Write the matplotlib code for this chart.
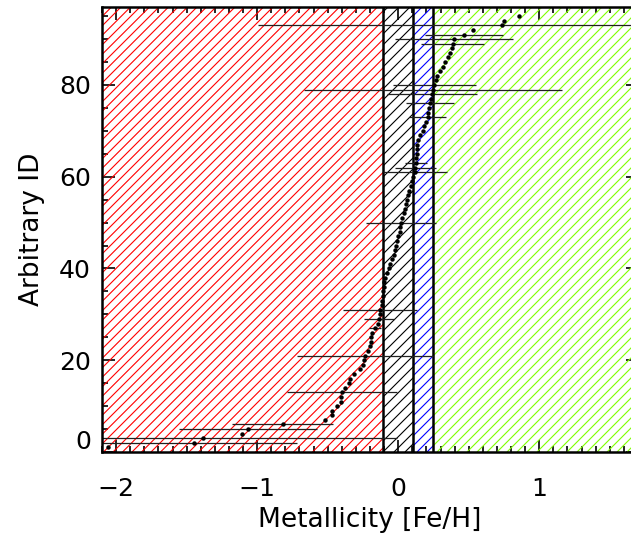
import numpy as np
import matplotlib
matplotlib.use("Agg")
import matplotlib.pyplot as plt
from matplotlib.collections import LineCollection
from matplotlib.patches import Rectangle
from matplotlib.ticker import MultipleLocator

# sorted metallicities, one star per ID (IDs start at 1)
star_id = list(range(1, 96))
feh = [-2.056, -1.447, -1.387, -1.111, -1.066, -0.820, -0.518, -0.468, -0.468, -0.437,
       -0.406, -0.406, -0.401, -0.376, -0.348, -0.343, -0.316, -0.274, -0.250, -0.245,
       -0.235, -0.213, -0.199, -0.194, -0.190, -0.185, -0.165, -0.146, -0.138, -0.130,
       -0.127, -0.118, -0.113, -0.110, -0.105, -0.102, -0.098, -0.094, -0.080, -0.066,
       -0.055, -0.042, -0.032, -0.024, -0.015, -0.006, 0.000, 0.010, 0.015, 0.019,
       0.027, 0.038, 0.048, 0.057, 0.064, 0.072, 0.080, 0.090, 0.098, 0.104,
       0.118, 0.122, 0.127, 0.128, 0.130, 0.133, 0.135, 0.142, 0.153, 0.173,
       0.184, 0.195, 0.209, 0.212, 0.217, 0.225, 0.231, 0.241, 0.248, 0.255,
       0.267, 0.276, 0.294, 0.314, 0.334, 0.354, 0.365, 0.380, 0.385, 0.395,
       0.468, 0.528, 0.733, 0.750, 0.857]

# stars that carry an error bar (ID, half width in dex)
err_id = [2, 3, 5, 6, 13, 21, 27, 29, 31, 50, 61, 62, 63, 73, 76, 78, 79, 80, 89, 90, 91, 93]
err_val = [0.731, 1.377, 0.490, 0.358, 0.390, 0.485, 0.045, 0.107, 0.263, 0.248, 0.225,
           0.147, 0.077, 0.130, 0.168, 0.319, 0.913, 0.293, 0.220, 0.420, 0.278, 1.729]

# borders of the metallicity classes
bin_edges = [-0.11, 0.105, 0.25]

XMIN, XMAX = -2.1, 1.7
YMIN, YMAX = 0, 97

fig = plt.figure(figsize=(6.31, 5.36), dpi=100)
# axes runs a few pixels past the right edge of the image, as in the original
ax = fig.add_axes([102 / 631, 84 / 536, 536 / 631, 445 / 536])
ax.set_xlim(XMIN, XMAX)
ax.set_ylim(YMIN, YMAX)


def hatch_band(x0, x1, color, step):
    # 45 degree lines, step = horizontal spacing in pixels (at 100 dpi)
    pos = ax.get_position()
    wpx = pos.width * fig.get_figwidth() * 100
    hpx = pos.height * fig.get_figheight() * 100
    sx = wpx / (XMAX - XMIN)
    segs = []
    for c in np.arange(-hpx, wpx + step, step):
        segs.append([(XMIN + c / sx, YMIN), (XMIN + (c + hpx) / sx, YMAX)])
    lc = LineCollection(segs, colors=color, linewidths=0.8)
    ax.add_collection(lc, autolim=False)
    rect = Rectangle((x0, YMIN), x1 - x0, YMAX - YMIN, transform=ax.transData,
                     facecolor="none", edgecolor="none")
    lc.set_clip_path(rect)


hatch_band(XMIN, bin_edges[0], "#ff0000", 9.5)
hatch_band(bin_edges[0], bin_edges[1], "#000000", 11.0)
hatch_band(bin_edges[1], bin_edges[2], "#0000ff", 10.0)
hatch_band(bin_edges[2], XMAX, "#7fff00", 10.0)

for xb in bin_edges:
    ax.axvline(xb, color="k", lw=1.8)

ex = [feh[i - 1] for i in err_id]
ax.hlines(err_id, np.array(ex) - np.array(err_val), np.array(ex) + np.array(err_val),
          colors="#202020", lw=0.9)
ax.plot(feh, star_id, "o", color="k", ms=3.2, mew=0)

ax.set_xlim(XMIN, XMAX)
ax.set_ylim(YMIN, YMAX)
ax.xaxis.set_major_locator(MultipleLocator(1))
ax.xaxis.set_minor_locator(MultipleLocator(0.1))
ax.set_yticks([0, 20, 40, 60, 80])
ax.set_yticklabels(["", "20", "40", "60", "80"])
ax.yaxis.set_minor_locator(MultipleLocator(5))
ax.tick_params(which="both", direction="in", top=True, right=True, width=1.2,
               labelsize=18)
ax.tick_params(which="major", length=9)
ax.tick_params(which="minor", length=4.5)
ax.tick_params(axis="x", pad=18)
ax.tick_params(axis="y", pad=8)
ax.annotate("0", xy=(0, 0), xycoords=("axes fraction", "data"), xytext=(-8, 7),
            textcoords="offset points", ha="right", va="center", fontsize=18)
for s in ax.spines.values():
    s.set_linewidth(1.8)

ax.set_xlabel("Metallicity [Fe/H]", fontsize=19, labelpad=4)
ax.set_ylabel("Arbitrary ID", fontsize=19, labelpad=10)

fig.savefig("out.png", dpi=100)
